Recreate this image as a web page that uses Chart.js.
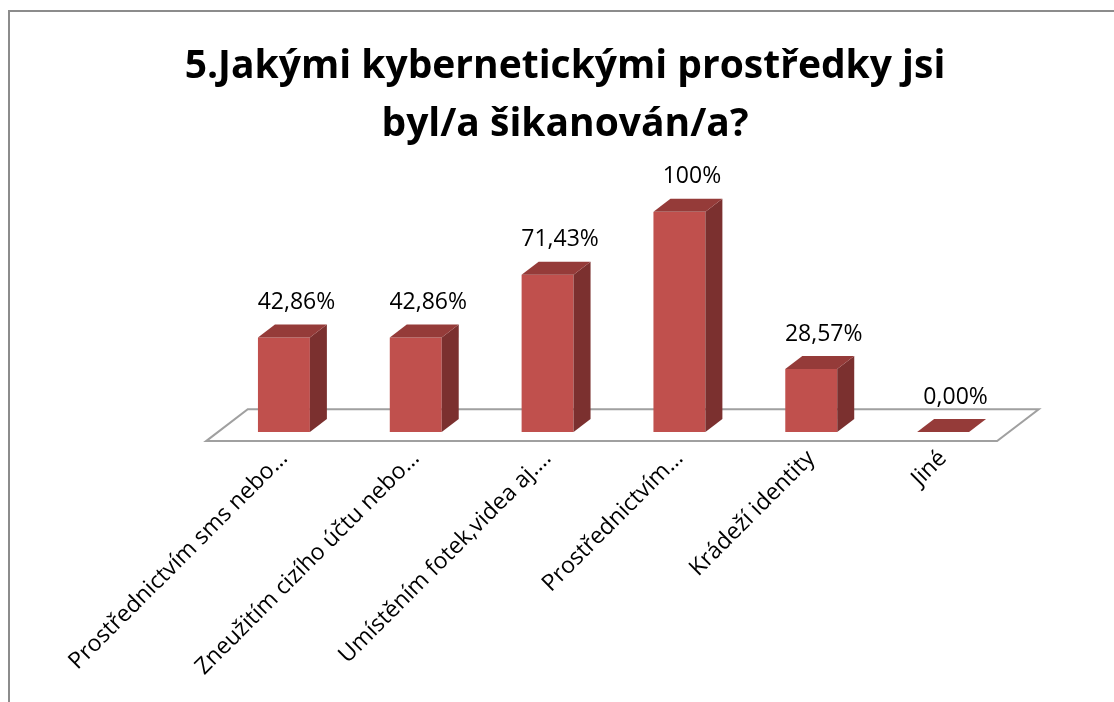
<!DOCTYPE html>
<html>
<head>
<meta charset="utf-8">
<script src="https://cdn.jsdelivr.net/npm/chart.js@4/dist/chart.umd.min.js"></script>
<style>
  html, body { margin: 0; padding: 0; background: #ffffff; }
  canvas { display: block; }
</style>
</head>
<body>
<canvas id="c" width="1114" height="702"></canvas>
<script>
// ---- data ----
const categories = [
  'Prostřednictvím sms nebo…',
  'Zneužitím cizího účtu nebo…',
  'Umístěním fotek,videa aj.…',
  'Prostřednictvím…',
  'Krádeží identity',
  'Jiné'
];
const values = [42.86, 42.86, 71.43, 100, 28.57, 0];
const valueLabels = ['42,86%', '42,86%', '71,43%', '100%', '28,57%', '0,00%'];
const titleLines = ['5.Jakými kybernetickými prostředky jsi', 'byl/a šikanován/a?'];

// ---- style ----
const FRONT = '#C0504D';
const TOP = '#953B39';
const SIDE = '#7B302F';
const FLOOR_LINE = '#A0A0A0';
const DEPTH_X = 17, DEPTH_Y = 13;
const FONT = "'Open Sans', 'Liberation Sans', sans-serif";

const frame = {
  id: 'frame',
  beforeDraw(chart) {
    const ctx = chart.ctx;
    ctx.save();
    ctx.fillStyle = '#ffffff';
    ctx.fillRect(0, 0, chart.width, chart.height);
    ctx.strokeStyle = '#8C8C8C';
    ctx.lineWidth = 2;
    ctx.beginPath();
    ctx.moveTo(9, chart.height + 2);
    ctx.lineTo(9, 11);
    ctx.lineTo(chart.width + 2, 11);
    ctx.stroke();
    ctx.restore();
  }
};

const floor3d = {
  id: 'floor3d',
  beforeDatasetsDraw(chart) {
    const ctx = chart.ctx;
    const area = chart.chartArea;
    const base = chart.scales.y.getPixelForValue(0);
    const tf = -0.7, tb = 1.75;
    ctx.save();
    ctx.beginPath();
    ctx.moveTo(area.left + tf * DEPTH_X, base - tf * DEPTH_Y);
    ctx.lineTo(area.right + tf * DEPTH_X, base - tf * DEPTH_Y);
    ctx.lineTo(area.right + tb * DEPTH_X, base - tb * DEPTH_Y);
    ctx.lineTo(area.left + tb * DEPTH_X, base - tb * DEPTH_Y);
    ctx.closePath();
    ctx.fillStyle = '#ffffff';
    ctx.fill();
    ctx.strokeStyle = FLOOR_LINE;
    ctx.lineWidth = 2;
    ctx.stroke();
    ctx.restore();
  }
};

const bars3d = {
  id: 'bars3d',
  afterDatasetsDraw(chart) {
    const ctx = chart.ctx;
    const meta = chart.getDatasetMeta(0);
    ctx.save();
    meta.data.forEach((bar, i) => {
      const p = bar.getProps(['x', 'y', 'base', 'width'], true);
      const l = p.x - p.width / 2, r = p.x + p.width / 2;
      const top = Math.min(p.y, p.base), bottom = Math.max(p.y, p.base);
      // side face
      if (bottom - top > 0.5) {
        ctx.beginPath();
        ctx.moveTo(r, top);
        ctx.lineTo(r + DEPTH_X, top - DEPTH_Y);
        ctx.lineTo(r + DEPTH_X, bottom - DEPTH_Y);
        ctx.lineTo(r, bottom);
        ctx.closePath();
        ctx.fillStyle = SIDE;
        ctx.fill();
      }
      // top face
      ctx.beginPath();
      ctx.moveTo(l, top);
      ctx.lineTo(r, top);
      ctx.lineTo(r + DEPTH_X, top - DEPTH_Y);
      ctx.lineTo(l + DEPTH_X, top - DEPTH_Y);
      ctx.closePath();
      ctx.fillStyle = TOP;
      ctx.fill();
      // value label
      ctx.fillStyle = '#000000';
      ctx.font = '23px ' + FONT;
      ctx.textAlign = 'center';
      ctx.textBaseline = 'middle';
      ctx.fillText(valueLabels[i], p.x + DEPTH_X / 2 + 4, top - DEPTH_Y - 22);
    });
    ctx.restore();
  }
};

new Chart(document.getElementById('c'), {
  type: 'bar',
  data: {
    labels: categories,
    datasets: [{
      data: values,
      backgroundColor: FRONT,
      borderWidth: 0,
      barPercentage: 0.394,
      categoryPercentage: 1
    }]
  },
  options: {
    responsive: false,
    animation: false,
    layout: { padding: { left: 121, right: 105, top: 10, bottom: 10 } },
    plugins: {
      legend: { display: false },
      tooltip: { enabled: false },
      title: {
        display: true,
        text: titleLines,
        color: '#000000',
        font: { family: FONT, size: 39, weight: 'bold', lineHeight: 1.51 },
        padding: { top: 27, bottom: 57 }
      }
    },
    scales: {
      x: {
        grid: { display: false },
        border: { display: false },
        ticks: {
          color: '#000000',
          font: { family: FONT, size: 23 },
          minRotation: 45,
          maxRotation: 45,
          autoSkip: false,
          padding: 5
        },
        afterFit(scale) { scale.height = 260; }
      },
      y: {
        min: 0,
        max: 100,
        grid: { display: false },
        border: { display: false },
        ticks: { display: false },
        afterFit(scale) { scale.width = 97; }
      }
    }
  },
  plugins: [frame, floor3d, bars3d]
});
</script>
</body>
</html>
